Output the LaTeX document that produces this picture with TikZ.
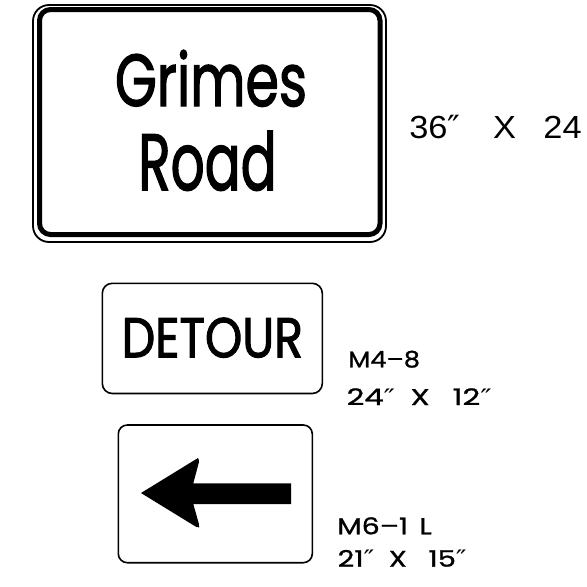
\documentclass[tikz,border=0pt]{standalone}
\usepackage{fontspec}
\usepackage{graphicx}
\newfontfamily\signfont{Poppins}[FakeBold=2]
\newfontfamily\labfont{Poppins}[FakeBold=1]
\newfontfamily\helv{Liberation Sans}
\newfontfamily\djv{DejaVu Sans}
\newcommand{\dprm}{{\djv ″}}
\newcommand{\fitbox}[3]{\resizebox{#1pt}{#2pt}{#3}}
\begin{document}
\begin{tikzpicture}[x=1pt,y=-1pt,
  txt/.style={inner sep=0pt,outer sep=0pt,anchor=base west},
  signframe/.style={draw=black,line width=1.6pt,fill=none},
  arrowfill/.style={fill=black,draw=none}]
\useasboundingbox (0,0) rectangle (587,587);
% big street name sign
\draw[signframe,line width=1.8pt,rounded corners=16pt] (33,5) rectangle (386,242);
\draw[line width=5pt,rounded corners=11pt] (39.5,9.5) rectangle (380,234.5);
\node[txt] (grimes) at (115,106) {\fitbox{192}{56}{\signfont Grimes}};
\node[txt] (road) at (138.3,190) {\fitbox{138.4}{59}{\signfont Road}};
\node[txt] (size1) at (409.3,138.3) {\fitbox{172.4}{23.3}{\helv 36\dprm\hspace{0.95em}X\hspace{0.8em}24}};
% detour sign
\draw[signframe,rounded corners=10pt] (102.3,283.3) rectangle (322.3,393.5);
\node[txt] (detour) at (121.7,357.3) {\fitbox{181.3}{39.6}{\signfont DETOUR}};
\node[txt] (m48) at (348.3,367.3) {\fitbox{71.7}{16.6}{\labfont M4–8}};
\node[txt] (size2) at (346.7,405) {\fitbox{145}{16.7}{\labfont 24\dprm\hspace{0.5em}X\hspace{0.75em}12\dprm}};
% arrow sign
\draw[signframe,rounded corners=9pt] (118.3,425) rectangle (312.3,562.7);
\fill[arrowfill] (141,493) -- (198,458) [rounded corners=2.5pt] -- (199.5,460) [sharp corners] -- (193.3,483.3) -- (291,483.3) -- (291,504) -- (193.3,504) [rounded corners=2.5pt] -- (199.5,526) -- (198,528) [sharp corners] -- cycle;
\node[txt] (m61) at (337.3,534.3) {\fitbox{94.4}{17}{\labfont M6–1\hspace{0.4em}L}};
\node[txt] (size3) at (337.7,566.7) {\fitbox{129}{16.7}{\labfont 21\dprm\hspace{0.5em}X\hspace{0.75em}15\dprm}};
\end{tikzpicture}
\end{document}
